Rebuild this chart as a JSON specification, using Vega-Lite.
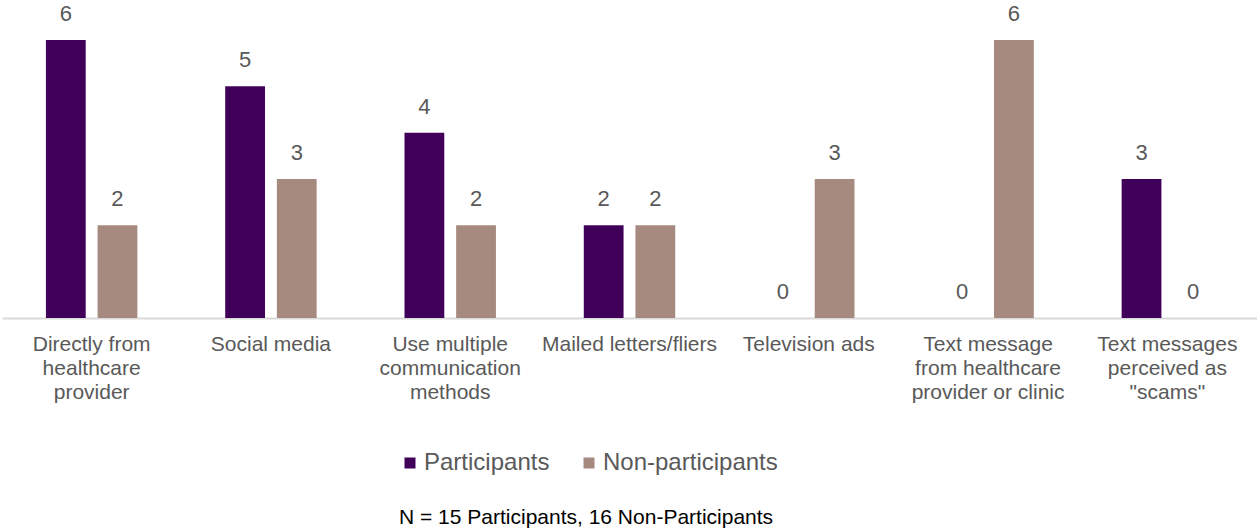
{
  "$schema": "https://vega.github.io/schema/vega-lite/v6.json",
  "autosize": {"type": "none"},
  "padding": {"left": 2, "top": 40, "right": 0, "bottom": 211},
  "width": 1255,
  "height": 278,
  "config": {"view": {"stroke": null}, "font": "Liberation Sans"},
  "title": {
    "text": "N = 15 Participants, 16 Non-Participants",
    "orient": "bottom",
    "anchor": "start",
    "dx": 397,
    "offset": 32,
    "fontSize": 21,
    "fontWeight": "normal",
    "color": "#000000",
    "font": "Liberation Sans"
  },
  "data": {
    "values": [
      {"cat": "Directly from|healthcare|provider", "group": "Participants", "value": 6},
      {"cat": "Directly from|healthcare|provider", "group": "Non-participants", "value": 2},
      {"cat": "Social media", "group": "Participants", "value": 5},
      {"cat": "Social media", "group": "Non-participants", "value": 3},
      {"cat": "Use multiple|communication|methods", "group": "Participants", "value": 4},
      {"cat": "Use multiple|communication|methods", "group": "Non-participants", "value": 2},
      {"cat": "Mailed letters/fliers", "group": "Participants", "value": 2},
      {"cat": "Mailed letters/fliers", "group": "Non-participants", "value": 2},
      {"cat": "Television ads", "group": "Participants", "value": 0},
      {"cat": "Television ads", "group": "Non-participants", "value": 3},
      {"cat": "Text message|from healthcare|provider or clinic", "group": "Participants", "value": 0},
      {"cat": "Text message|from healthcare|provider or clinic", "group": "Non-participants", "value": 6},
      {"cat": "Text messages|perceived as|\"scams\"", "group": "Participants", "value": 3},
      {"cat": "Text messages|perceived as|\"scams\"", "group": "Non-participants", "value": 0}
    ]
  },
  "encoding": {
    "x": {
      "field": "cat",
      "type": "nominal",
      "sort": null,
      "scale": {"paddingInner": 0.49, "paddingOuter": 0.245},
      "axis": {
        "title": null,
        "labelAngle": 0,
        "labelExpr": "split(datum.label, '|')",
        "labelFontSize": 21,
        "labelColor": "#595959",
        "labelLineHeight": 24,
        "labelPadding": 15,
        "labelLimit": 300,
        "ticks": false,
        "domainColor": "#d9d9d9",
        "domainWidth": 2
      }
    },
    "xOffset": {
      "field": "group",
      "type": "nominal",
      "sort": ["Participants", "Non-participants"],
      "scale": {"paddingInner": 0.23}
    },
    "y": {
      "field": "value",
      "type": "quantitative",
      "scale": {"domain": [0, 6], "nice": false},
      "axis": null
    }
  },
  "layer": [
    {
      "mark": {"type": "bar"},
      "encoding": {
        "color": {
          "field": "group",
          "type": "nominal",
          "sort": ["Participants", "Non-participants"],
          "scale": {"domain": ["Participants", "Non-participants"], "range": ["#40005A", "#A78A7F"]},
          "legend": {
            "title": null,
            "orient": "none",
            "direction": "horizontal",
            "legendX": 396,
            "legendY": 411,
            "symbolType": "square",
            "symbolSize": 121,
            "symbolStrokeWidth": 0,
            "labelFontSize": 24,
            "labelColor": "#595959",
            "labelOffset": 2,
            "labelLimit": 400,
            "columnPadding": 27,
            "labelFont": "Liberation Sans"
          }
        }
      }
    },
    {
      "mark": {"type": "text", "dy": -14, "baseline": "bottom", "fontSize": 22, "color": "#595959"},
      "encoding": {"text": {"field": "value", "type": "quantitative"}}
    }
  ]
}
